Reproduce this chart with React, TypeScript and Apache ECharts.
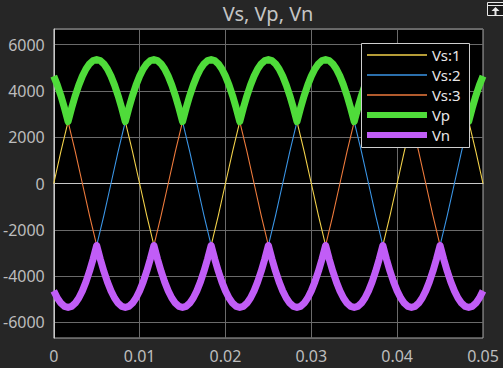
import React, { useEffect, useRef } from "react";
import * as echarts from "echarts";

// sample spacing of the recorded signals (seconds between samples)
const PHASE_STEP_S = 1 / 1200; // Vs:1..3 recorded every 1/1200 s
const RAIL_STEP_S = 1 / 2400; // Vp, Vn recorded every 1/2400 s

const seriesNames = ["Vs:1", "Vs:2", "Vs:3", "Vp", "Vn"];
const xTickLabels = ["0", "0.01", "0.02", "0.03", "0.04", "0.05"];

const vs1 = [
  0, 1387, 2680, 3790, 4642, 5177, 5360, 5177, 4642, 3790, 2680, 1387,
  0, -1387, -2680, -3790, -4642, -5177, -5360, -5177, -4642, -3790, -2680, -1387,
  0, 1387, 2680, 3790, 4642, 5177, 5360, 5177, 4642, 3790, 2680, 1387,
  0, -1387, -2680, -3790, -4642, -5177, -5360, -5177, -4642, -3790, -2680, -1387,
  0, 1387, 2680, 3790, 4642, 5177, 5360, 5177, 4642, 3790, 2680, 1387, 0,
];

const vs2 = [
  -4642, -5177, -5360, -5177, -4642, -3790, -2680, -1387, 0, 1387, 2680, 3790,
  4642, 5177, 5360, 5177, 4642, 3790, 2680, 1387, 0, -1387, -2680, -3790,
  -4642, -5177, -5360, -5177, -4642, -3790, -2680, -1387, 0, 1387, 2680, 3790,
  4642, 5177, 5360, 5177, 4642, 3790, 2680, 1387, 0, -1387, -2680, -3790,
  -4642, -5177, -5360, -5177, -4642, -3790, -2680, -1387, 0, 1387, 2680, 3790, 4642,
];

const vs3 = [
  4642, 3790, 2680, 1387, 0, -1387, -2680, -3790, -4642, -5177, -5360, -5177,
  -4642, -3790, -2680, -1387, 0, 1387, 2680, 3790, 4642, 5177, 5360, 5177,
  4642, 3790, 2680, 1387, 0, -1387, -2680, -3790, -4642, -5177, -5360, -5177,
  -4642, -3790, -2680, -1387, 0, 1387, 2680, 3790, 4642, 5177, 5360, 5177,
  4642, 3790, 2680, 1387, 0, -1387, -2680, -3790, -4642, -5177, -5360, -5177, -4642,
];

const vp = [
  4642, 4252, 3790, 3263, 2680, 3263, 3790, 4252, 4642, 4952, 5177, 5314, 5360, 5314, 5177, 4952,
  4642, 4252, 3790, 3263, 2680, 3263, 3790, 4252, 4642, 4952, 5177, 5314, 5360, 5314, 5177, 4952,
  4642, 4252, 3790, 3263, 2680, 3263, 3790, 4252, 4642, 4952, 5177, 5314, 5360, 5314, 5177, 4952,
  4642, 4252, 3790, 3263, 2680, 3263, 3790, 4252, 4642, 4952, 5177, 5314, 5360, 5314, 5177, 4952,
  4642, 4252, 3790, 3263, 2680, 3263, 3790, 4252, 4642, 4952, 5177, 5314, 5360, 5314, 5177, 4952,
  4642, 4252, 3790, 3263, 2680, 3263, 3790, 4252, 4642, 4952, 5177, 5314, 5360, 5314, 5177, 4952,
  4642, 4252, 3790, 3263, 2680, 3263, 3790, 4252, 4642, 4952, 5177, 5314, 5360, 5314, 5177, 4952,
  4642, 4252, 3790, 3263, 2680, 3263, 3790, 4252, 4642,
];

const vn = [
  -4642, -4952, -5177, -5314, -5360, -5314, -5177, -4952, -4642, -4252, -3790, -3263, -2680, -3263, -3790, -4252,
  -4642, -4952, -5177, -5314, -5360, -5314, -5177, -4952, -4642, -4252, -3790, -3263, -2680, -3263, -3790, -4252,
  -4642, -4952, -5177, -5314, -5360, -5314, -5177, -4952, -4642, -4252, -3790, -3263, -2680, -3263, -3790, -4252,
  -4642, -4952, -5177, -5314, -5360, -5314, -5177, -4952, -4642, -4252, -3790, -3263, -2680, -3263, -3790, -4252,
  -4642, -4952, -5177, -5314, -5360, -5314, -5177, -4952, -4642, -4252, -3790, -3263, -2680, -3263, -3790, -4252,
  -4642, -4952, -5177, -5314, -5360, -5314, -5177, -4952, -4642, -4252, -3790, -3263, -2680, -3263, -3790, -4252,
  -4642, -4952, -5177, -5314, -5360, -5314, -5177, -4952, -4642, -4252, -3790, -3263, -2680, -3263, -3790, -4252,
  -4642, -4952, -5177, -5314, -5360, -5314, -5177, -4952, -4642,
];

const seriesValues = [vs1, vs2, vs3, vp, vn];
const seriesSteps = [PHASE_STEP_S, PHASE_STEP_S, PHASE_STEP_S, RAIL_STEP_S, RAIL_STEP_S];
const seriesColors = ["#f2d14a", "#3a95e6", "#ee7a3c", "#4fdc3a", "#c15df7"];
const seriesWidths = [1.1, 1.1, 1.1, 7, 7];
const legendWidths = [1.5, 1.5, 1.5, 6, 6];

const FONT = "'Noto Sans', 'Liberation Sans', sans-serif";

export default function App() {
  const ref = useRef<HTMLDivElement>(null);

  useEffect(() => {
    document.body.style.margin = "0";
    document.body.style.background = "#262626";
    const chart = echarts.init(ref.current as HTMLDivElement, null, { renderer: "svg" });

    const series = seriesValues.map((vals, si) => ({
      name: seriesNames[si],
      type: "line",
      data: vals.map((v, i) => [i * seriesSteps[si], v]),
      showSymbol: false,
      symbol: "none",
      z: si >= 3 ? 3 : 2,
      lineStyle: { color: seriesColors[si], width: seriesWidths[si], join: "round", cap: "butt" },
      itemStyle: { color: seriesColors[si] },
    }));

    const legendX = 361;
    const legendY = 43;
    const legendElems: any[] = [
      {
        type: "rect",
        shape: { x: legendX + 0.5, y: legendY + 0.5, width: 108, height: 104 },
        style: { fill: "#000", stroke: "#cfcfcf", lineWidth: 1 },
        z: 100,
      },
    ];
    seriesNames.forEach((name, i) => {
      const cy = legendY + 12 + i * 20;
      legendElems.push({
        type: "line",
        shape: { x1: legendX + 6, y1: cy, x2: legendX + 66, y2: cy },
        style: { stroke: seriesColors[i], lineWidth: legendWidths[i] },
        z: 101,
      });
      legendElems.push({
        type: "text",
        x: legendX + 71,
        y: cy,
        style: {
          text: name,
          fill: "#e6e6e6",
          fontSize: 15,
          lineHeight: 17,
          fontFamily: FONT,
          verticalAlign: "middle",
        },
        z: 101,
      });
    });

    const toolbarIcon = {
      type: "group",
      x: 487,
      y: 2,
      z: 100,
      children: [
        { type: "rect", shape: { x: 0.5, y: 0.5, width: 16, height: 13 }, style: { fill: "#1a1a1a", stroke: "#e8e8e8", lineWidth: 1 } },
        { type: "line", shape: { x1: 1, y1: 3.5, x2: 16, y2: 3.5 }, style: { stroke: "#e8e8e8", lineWidth: 1 } },
        { type: "polygon", shape: { points: [[8.5, 5], [4.5, 9], [12.5, 9]] }, style: { fill: "#e8e8e8" } },
        { type: "rect", shape: { x: 7.5, y: 8.5, width: 2, height: 5 }, style: { fill: "#e8e8e8" } },
      ],
    };

    chart.setOption({
      animation: false,
      backgroundColor: "#262626",
      textStyle: { fontFamily: FONT },
      title: {
        text: "Vs, Vp, Vn",
        left: 268,
        top: 3,
        padding: 0,
        textAlign: "center",
        textStyle: { color: "#c4c4c4", fontSize: 20, fontWeight: "normal", fontFamily: FONT },
      },
      grid: {
        left: 53,
        right: 20,
        top: 29,
        bottom: 30,
        show: true,
        backgroundColor: "#000",
        borderColor: "#a8a8a8",
        borderWidth: 1,
        containLabel: false,
      },
      xAxis: {
        type: "value",
        min: 0,
        max: 0.05,
        interval: 0.01,
        axisLine: { show: true, lineStyle: { color: "#c8c8c8", width: 1 } },
        axisTick: { show: false },
        splitLine: { show: true, lineStyle: { color: "#6a6a6a", width: 1 } },
        axisLabel: {
          color: "#bdbdbd",
          fontSize: 16,
          fontFamily: FONT,
          margin: 10,
          formatter: (v: number) => xTickLabels[Math.round(v / 0.01)] ?? "",
        },
      },
      yAxis: {
        type: "value",
        min: -6680,
        max: 6680,
        splitNumber: 7,
        minInterval: 2000,
        maxInterval: 2000,
        axisLine: { show: true, lineStyle: { color: "#c8c8c8", width: 1 } },
        axisTick: { show: false },
        splitLine: { show: true, lineStyle: { color: "#6a6a6a", width: 1 } },
        axisLabel: {
          color: "#bdbdbd",
          fontSize: 16,
          fontFamily: FONT,
          margin: 9,
          showMinLabel: false,
          showMaxLabel: false,
          formatter: (v: number) => String(Math.round(v)),
        },
      },
      series,
      graphic: [...legendElems, toolbarIcon],
    });

    return () => chart.dispose();
  }, []);

  return (
    <div
      ref={ref}
      style={{ position: "absolute", left: 0, top: 0, width: 503, height: 368 }}
    />
  );
}
